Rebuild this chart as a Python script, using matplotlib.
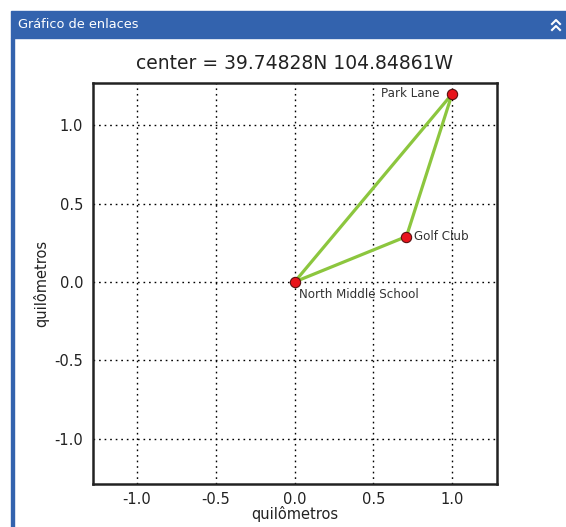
import matplotlib
matplotlib.use("Agg")
import matplotlib.pyplot as plt
from matplotlib.lines import Line2D
from matplotlib.patches import Rectangle

# ================= DATA =================
names = ["North Middle School", "Golf Club", "Park Lane"]
x_km = [0.0, 0.71, 1.0]
y_km = [0.0, 0.29, 1.20]
links = [(0, 2), (2, 1), (1, 0)]
ticks = [-1.0, -0.5, 0.0, 0.5, 1.0]
panel_title = "Gráfico de enlaces"
chart_title = "center = 39.74828N 104.84861W"
axis_label = "quilômetros"

W, H = 566, 527
fig = plt.figure(figsize=(W / 100, H / 100), dpi=100)
fig.patch.set_facecolor("white")

# ================= PANEL FRAME =================
blue = "#3363AE"
fig.patches.append(Rectangle((11 / W, 1 - 38 / H), 1 - 11 / W, 27 / H,
                             transform=fig.transFigure, color=blue, zorder=0))
fig.patches.append(Rectangle((11 / W, 0), 3 / W, 1 - 38 / H,
                             transform=fig.transFigure, color=blue, zorder=0))
fig.text(18 / W, 1 - 25 / H, panel_title, color="white", fontsize=9.3,
         va="center", ha="left")
# double chevron icon
for dy in [0, 6]:
    yy = 1 - (24 + dy) / H
    fig.lines.append(Line2D([552 / W, 556 / W, 560 / W], [yy, yy + 4 / H, yy],
                            transform=fig.transFigure, color="white", lw=1.5))

# ================= CHART =================
ax = fig.add_axes([93 / W, 1 - 484 / H, 404 / W, 401 / H])

for a, b in links:
    ax.plot([x_km[a], x_km[b]], [y_km[a], y_km[b]], color="#8CC63E", lw=2.3, zorder=3)

ax.scatter(x_km, y_km, s=55, color="#E8141B", edgecolors="#5a1010", linewidths=0.8, zorder=4)

ax.text(x_km[0] + 0.03, y_km[0] - 0.04, names[0], fontsize=8.6, color="#333333", va="top", ha="left")
ax.text(x_km[1] + 0.05, y_km[1], names[1], fontsize=8.6, color="#333333", va="center", ha="left")
ax.text(x_km[2] - 0.08, y_km[2], names[2], fontsize=8.6, color="#333333", va="center", ha="right")

ax.set_xlim(-1.28, 1.285)
ax.set_ylim(-1.29, 1.27)
ax.set_xticks(ticks)
ax.set_yticks(ticks)
ax.set_xticklabels([f"{t:.1f}" for t in ticks])
ax.set_yticklabels([f"{t:.1f}" for t in ticks])
ax.tick_params(length=0, labelsize=10.5, labelcolor="#222222")
ax.tick_params(axis="x", pad=6)
ax.tick_params(axis="y", pad=7)
ax.grid(True, color="black", linestyle=(0, (1.2, 2.8)), linewidth=1.0)
for sp in ax.spines.values():
    sp.set_linewidth(1.8)
    sp.set_color("#222222")

ax.set_title(chart_title, fontsize=13.5, color="#222222", pad=10)
ax.set_xlabel(axis_label, fontsize=10.5, color="#222222", labelpad=-1)
ax.set_ylabel(axis_label, fontsize=10.5, color="#222222", labelpad=4)

fig.savefig("out.png", dpi=100)
